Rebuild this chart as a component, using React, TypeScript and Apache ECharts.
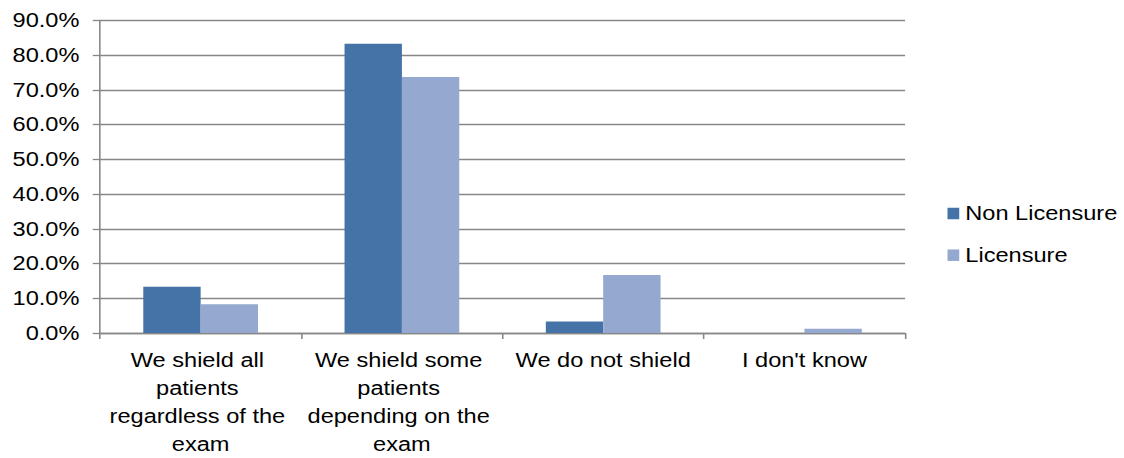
import React, { useEffect, useRef } from "react";
import * as echarts from "echarts";

const categories = [
  "We shield all patients regardless of the exam",
  "We shield some patients depending on the exam",
  "We do not shield",
  "I don't know",
];
const nonLicensure = [13.3, 83.3, 3.3, 0];
const licensure = [8.3, 73.7, 16.7, 1.2];
const seriesNames = ["Non Licensure", "Licensure"];

// reference is horizontally stretched; draw unscaled and stretch with CSS
const SX = 1.21;
const W = 1124 / SX;
const H = 458;

export default function App() {
  const ref = useRef<HTMLDivElement>(null);
  useEffect(() => {
    if (!ref.current) return;
    const chart = echarts.init(ref.current, null, { renderer: "svg" });
    const font = "Liberation Sans, Arial, sans-serif";
    chart.setOption({
      animation: false,
      backgroundColor: "#ffffff",
      textStyle: { fontFamily: font },
      grid: { left: 100 / SX, right: W - 905 / SX, top: 20.5, bottom: H - 335.5, containLabel: false },
      legend: {
        orient: "vertical",
        left: 947.5 / SX,
        top: 203.5,
        padding: 0,
        itemWidth: 9.7,
        itemHeight: 11.5,
        itemGap: 21.7,
        icon: "rect",
        textStyle: { fontSize: 19.5, color: "#000", fontFamily: font, lineHeight: 20 },
        data: seriesNames,
      },
      xAxis: {
        type: "category",
        data: categories,
        axisLine: { lineStyle: { color: "#878787", width: 1.3 } },
        axisTick: { show: true, length: 6, alignWithLabel: false, lineStyle: { color: "#878787", width: 1.3 } },
        axisLabel: {
          color: "#000",
          fontSize: 19.5,
          fontFamily: font,
          lineHeight: 28,
          margin: 13,
          interval: 0,
          width: 157,
          overflow: "break",
          align: "center",
        },
      },
      yAxis: {
        type: "value",
        min: 0,
        max: 90,
        interval: 10,
        axisLine: { show: true, lineStyle: { color: "#878787", width: 1.3 } },
        axisTick: { show: true, length: 6, lineStyle: { color: "#878787", width: 1.3 } },
        splitLine: { lineStyle: { color: "#878787", width: 1.3 } },
        axisLabel: {
          color: "#000",
          fontSize: 19.5,
          fontFamily: font,
          margin: 17,
          formatter: (v: number) => v.toFixed(1) + "%",
        },
      },
      series: [
        {
          name: seriesNames[0],
          type: "bar",
          data: nonLicensure,
          barGap: "0%",
          barCategoryGap: "43%",
          itemStyle: { color: "#4572A7" },
        },
        {
          name: seriesNames[1],
          type: "bar",
          data: licensure,
          barGap: "0%",
          barCategoryGap: "43%",
          itemStyle: { color: "#95A9D0" },
        },
      ],
    });
    return () => chart.dispose();
  }, []);
  return (
    <div
      ref={ref}
      style={{
        position: "fixed",
        left: 0,
        top: 0,
        width: W,
        height: H,
        transform: `scaleX(${SX})`,
        transformOrigin: "0 0",
      }}
    />
  );
}
